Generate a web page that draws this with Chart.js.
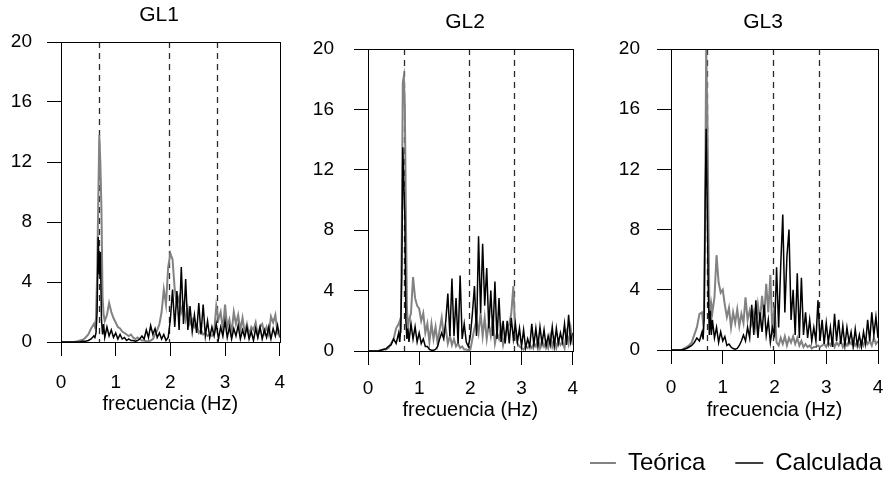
<!DOCTYPE html>
<html>
<head>
<meta charset="utf-8">
<script src="https://cdn.jsdelivr.net/npm/chart.js@4.4.1/dist/chart.umd.min.js"></script>
<style>
  html, body { margin: 0; padding: 0; background: #fff; overflow: hidden; width: 888px; height: 477px; }
  canvas { position: absolute; top: 0; }
</style>
</head>
<body>
<canvas id="gl1" width="300" height="420" style="left:0px"></canvas>
<canvas id="gl2" width="290" height="430" style="left:300px"></canvas>
<canvas id="gl3" width="370" height="494" style="left:590px"></canvas>
<script>
// frequency axis (Hz), finer around the first mode
const freq = [
  0, 0.05, 0.1, 0.15, 0.2, 0.25, 0.3, 0.35, 0.4, 0.45, 0.5, 0.55, 0.6,
  0.62, 0.64, 0.66, 0.68, 0.7, 0.72, 0.74, 0.76, 0.78, 0.8,
  0.84, 0.88, 0.92, 0.96, 1.0, 1.04, 1.08, 1.12, 1.16, 1.2, 1.24, 1.28, 1.32, 1.36, 1.4, 1.44, 1.48, 1.52, 1.56, 1.6,
  1.64, 1.68, 1.72, 1.76, 1.8, 1.84, 1.88, 1.92, 1.96, 2.0, 2.04, 2.08, 2.12, 2.16, 2.2, 2.24, 2.28, 2.32, 2.36, 2.4,
  2.44, 2.48, 2.52, 2.56, 2.6, 2.64, 2.68, 2.72, 2.76, 2.8, 2.84, 2.88, 2.92, 2.96, 3.0, 3.04, 3.08, 3.12, 3.16, 3.2,
  3.24, 3.28, 3.32, 3.36, 3.4, 3.44, 3.48, 3.52, 3.56, 3.6, 3.64, 3.68, 3.72, 3.76, 3.8, 3.84, 3.88, 3.92, 3.96, 4.0
];

const gl1Teorica = [
  0, 0, 0, 0, 0, 0.02, 0.05, 0.1, 0.15, 0.3, 0.5, 0.9, 1.2,
  1.0, 1.6, 4.3, 9.0, 13.8, 11.9, 8.8, 3.0, 1.8, 1.4,
  1.8, 2.6, 2.0, 1.6, 1.3, 1.0, 0.9, 0.7, 0.6, 0.5, 0.4, 0.5, 0.3, 0.2, 0.3, 0.2, 0.1, 0.1, 0.05, 0.05,
  0.1, 0.2, 0.5, 0.8, 1.2, 2.0, 3.5, 2.5, 5.0, 5.9, 5.5, 3.5, 2.5, 3.0, 2.0, 2.5, 1.5, 2.2, 1.2, 1.5,
  1.0, 1.2, 0.6, 0.8, 0.5, 0.6, 0.4, 0.5, 0.4, 0.6, 2.4, 1.5, 2.0, 0.8, 2.5, 1.0, 1.5, 0.6, 2.0, 1.2,
  1.8, 0.8, 1.6, 0.6, 1.2, 0.5, 1.0, 0.8, 1.3, 0.4, 1.0, 1.2, 0.6, 1.0, 0.5, 1.7, 1.3, 1.8, 0.6, 0.8
];
const gl1Calculada = [
  0, 0, 0, 0, 0, 0, 0, 0.02, 0.05, 0.05, 0.1, 0.2, 0.4,
  0.3, 0.6, 2.0, 7.0, 4.5, 6.0, 1.5, 0.5, 1.2, 0.3,
  1.0, 0.4, 0.8, 0.3, 0.6, 0.2, 0.5, 0.2, 0.3, 0.1, 0.2, 0.1, 0.1, 0.05, 0.1, 0.2, 0.4, 0.2, 0.8, 0.3,
  1.1, 0.5, 0.9, 0.3, 0.6, 0.2, 0.5, 0.1, 0.3, 1.5, 3.5, 1.0, 3.4, 0.8, 5.0, 1.2, 4.2, 0.8, 2.4, 0.7,
  1.8, 0.6, 2.6, 0.5, 2.5, 0.4, 1.4, 0.3, 1.0, 0.4, 1.2, 0.2, 1.0, 0.4, 1.4, 0.3, 1.0, 0.2, 0.9, 0.4,
  1.1, 0.2, 0.8, 0.3, 1.0, 0.2, 0.7, 0.1, 0.9, 0.3, 1.0, 0.2, 0.8, 0.3, 1.0, 0.2, 0.9, 0.4, 1.1, 0.3
];

const gl2Teorica = [
  0, 0, 0, 0, 0, 0.05, 0.1, 0.1, 0.2, 0.5, 0.8, 1.5, 1.8,
  2.0, 1.2, 7.8, 17.8, 18.2, 16.2, 9.0, 3.0, 1.5, 2.0,
  2.5, 4.9, 3.5, 3.0, 2.8, 2.0, 2.5, 1.2, 1.8, 0.6, 1.8, 0.8, 1.6, 0.5, 1.4, 2.2, 1.0, 1.5, 0.5, 1.0,
  0.4, 0.8, 0.3, 0.5, 0.2, 0.3, 0.1, 0.1, 0.05, 0.1, 0.8, 1.5, 2.0, 1.2, 2.5, 1.0, 2.2, 0.8, 1.8, 1.0,
  2.0, 0.5, 1.2, 0.8, 1.5, 0.4, 1.0, 1.5, 1.8, 2.5, 4.3, 1.0, 0.5, 0.3, 0.2, 0.1, 0.3, 0.2, 0.4, 0.2,
  0.5, 0.3, 0.8, 0.2, 0.7, 0.3, 0.6, 0.2, 1.0, 0.3, 0.8, 0.2, 0.7, 0.4, 0.6, 0.2, 1.2, 0.5, 1.5, 0.4
];
const gl2Calculada = [
  0, 0, 0, 0, 0, 0.05, 0.1, 0.15, 0.3, 0.4, 0.8, 0.5, 1.2,
  0.6, 1.5, 5.0, 13.5, 11.0, 8.8, 2.0, 0.8, 1.5, 0.6,
  1.8, 0.8, 1.6, 0.6, 1.2, 0.5, 0.8, 0.3, 0.3, 0.1, 0.05, 0.05, 0.1, 0.3, 0.8, 1.2, 0.8, 2.0, 3.8, 1.0,
  4.8, 1.0, 3.5, 0.5, 5.0, 0.8, 1.8, 0.6, 0.3, 1.0, 2.5, 4.3, 1.0, 7.6, 2.5, 7.1, 3.0, 5.5, 1.5, 4.0,
  1.0, 4.6, 0.8, 3.5, 0.6, 2.0, 0.5, 2.0, 0.5, 2.2, 0.8, 1.8, 0.6, 1.5, 0.3, 1.4, 0.2, 0.8, 0.3, 1.8,
  0.4, 1.5, 0.3, 1.6, 0.5, 1.4, 0.3, 1.0, 0.4, 1.6, 0.3, 1.5, 0.5, 1.2, 0.6, 1.8, 0.4, 2.4, 0.6, 1.2
];

const gl3Teorica = [
  0, 0, 0, 0, 0, 0.1, 0.2, 0.3, 0.5, 1.0, 1.5, 2.4, 2.5,
  1.8, 2.4, 9.5, 20, 16.3, 10.0, 3.5, 2.0, 3.0, 2.5,
  3.5, 6.3, 4.5, 3.8, 4.0, 3.0, 2.2, 2.8, 1.5, 2.5, 1.8, 2.7, 1.6, 2.4, 1.8, 3.5, 2.0, 2.6, 1.8, 2.5,
  1.5, 3.0, 2.0, 3.6, 2.2, 4.4, 2.5, 5.0, 1.0, 3.0, 0.5, 0.3, 0.8, 0.4, 0.9, 0.3, 0.8, 0.5, 0.9, 0.4,
  0.8, 0.3, 0.6, 0.2, 0.4, 0.2, 0.3, 0.1, 0.2, 0.2, 0.3, 0.2, 0.3, 0.4, 0.2, 0.5, 0.3, 0.6, 0.2, 0.5,
  0.3, 0.6, 0.2, 0.5, 0.3, 0.6, 0.4, 0.7, 0.3, 0.5, 0.2, 0.6, 0.3, 0.7, 0.4, 0.6, 0.3, 0.8, 0.4, 0.6
];
const gl3Calculada = [
  0, 0, 0, 0, 0, 0.05, 0.1, 0.2, 0.3, 0.5, 0.8, 0.6, 1.2,
  0.7, 2.0, 9.7, 14.7, 9.5, 4.0, 1.0, 2.6, 1.0, 2.0,
  0.8, 1.5, 0.5, 1.2, 0.6, 0.9, 0.3, 0.4, 0.2, 0.1, 0.05, 0.1, 0.3, 0.6, 1.0, 0.6, 1.5, 0.8, 3.0, 1.0,
  3.3, 0.8, 2.5, 1.2, 3.0, 1.0, 2.0, 0.5, 1.5, 1.0, 5.5, 1.5, 5.6, 9.0, 2.5, 6.2, 8.0, 2.0, 4.0, 1.0,
  5.1, 0.8, 4.8, 1.0, 2.5, 0.8, 2.0, 0.6, 1.5, 0.6, 3.3, 0.6, 2.0, 0.4, 1.8, 0.5, 1.5, 0.2, 2.4, 0.6,
  2.0, 0.4, 1.6, 0.3, 1.5, 0.5, 1.2, 0.2, 1.4, 0.3, 1.0, 0.2, 1.2, 0.4, 2.0, 0.6, 2.5, 1.0, 2.2, 0.8
];

// natural frequencies marked with dashed lines (Hz)
const modeFreqs = [0.70, 1.98, 2.86];

const FONT = "'Liberation Sans', Arial, Helvetica, sans-serif";

const modeLines = {
  id: 'modeLines',
  beforeDatasetsDraw(chart) {
    const { ctx, chartArea, scales: { x } } = chart;
    ctx.save();
    ctx.strokeStyle = '#2a2a2a';
    ctx.lineWidth = 1.3;
    ctx.setLineDash([6, 5]);
    modeFreqs.forEach(f => {
      const px = Math.round(x.getPixelForValue(f)) + 0.5;
      ctx.beginPath();
      ctx.moveTo(px, chartArea.top);
      ctx.lineTo(px, chartArea.bottom);
      ctx.stroke();
    });
    ctx.restore();
  }
};

const frame = {
  id: 'frame',
  afterDatasetsDraw(chart) {
    const { ctx, chartArea: a } = chart;
    ctx.save();
    ctx.strokeStyle = '#000';
    ctx.lineWidth = 1;
    ctx.strokeRect(Math.round(a.left) + 0.5, Math.round(a.top) + 0.5,
      Math.round(a.right - a.left), Math.round(a.bottom - a.top));
    ctx.restore();
  }
};

// shift the title (and legend) boxes after layout, the panel titles are not centred on the plot
const placeBoxes = {
  id: 'placeBoxes',
  afterLayout(chart, args, opts) {
    const t = chart.titleBlock;
    if (t && opts.titleCenter != null) {
      t.left = opts.titleCenter - 60;
      t.right = opts.titleCenter + 60;
    }
    const lg = chart.legend;
    if (lg && opts.legendRight != null) {
      lg.right = opts.legendRight;
      lg.top = opts.legendTop;
      lg.bottom = opts.legendTop + lg.height;
    }
  }
};

function toPoints(values) {
  return freq.map((f, i) => ({ x: f, y: values[i] }));
}

function drawPanel(id, title, teorica, calculada, lay) {
  const tickFont = { family: FONT, size: 19 };
  new Chart(document.getElementById(id), {
    type: 'line',
    data: {
      datasets: [
        { label: 'Teórica', data: toPoints(teorica), borderColor: '#828282', borderWidth: 2,
          pointRadius: 0, tension: 0, order: 1 },
        { label: 'Calculada', data: toPoints(calculada), borderColor: '#000', borderWidth: 1.5,
          pointRadius: 0, tension: 0, order: 0 }
      ]
    },
    options: {
      responsive: false,
      animation: false,
      events: [],
      layout: { padding: { left: 0, right: 0, top: 0, bottom: lay.padB } },
      plugins: {
        title: {
          display: true, text: title, color: '#000',
          font: { family: FONT, size: 21, weight: 'normal', lineHeight: 1.2 },
          padding: { top: lay.titleTop, bottom: lay.top - lay.titleTop - 25.2 }
        },
        legend: {
          display: lay.legend,
          position: 'bottom',
          align: 'end',
          labels: {
            color: '#000',
            font: { family: FONT, size: 24 },
            usePointStyle: true,
            pointStyle: 'line',
            pointStyleWidth: 28,
            padding: 30,
            sort: (a, b) => a.datasetIndex - b.datasetIndex
          }
        },
        tooltip: { enabled: false },
        placeBoxes: { titleCenter: lay.titleCenter, legendRight: lay.legendRight, legendTop: lay.legendTop }
      },
      scales: {
        x: {
          type: 'linear', min: 0, max: 4,
          afterFit: s => { s.height = lay.xHeight; },
          ticks: { stepSize: 1, color: '#000', font: tickFont, padding: lay.xPad, maxRotation: 0 },
          grid: { drawOnChartArea: false, tickLength: 14, color: '#000' },
          border: { color: '#000' },
          title: {
            display: true, text: 'frecuencia (Hz)', color: '#000',
            font: { family: FONT, size: 20 }, padding: { top: 0, bottom: lay.xTitlePad }
          }
        },
        y: {
          type: 'linear', min: 0, max: 20,
          afterFit: s => { s.width = lay.yWidth; },
          ticks: { stepSize: 4, color: '#000', font: tickFont, padding: lay.yPad },
          grid: { drawOnChartArea: false, tickLength: 14, color: '#000' },
          border: { color: '#000' }
        },
        yRight: {
          type: 'linear', position: 'right', display: true,
          afterFit: s => { s.width = lay.rightGap; },
          ticks: { display: false },
          grid: { display: false },
          border: { display: false }
        }
      }
    },
    plugins: [modeLines, frame, placeBoxes]
  });
}

drawPanel('gl1', 'GL1', gl1Teorica, gl1Calculada, {
  padB: 0, yWidth: 61, rightGap: 17, top: 42, titleTop: 3, titleCenter: 159,
  xHeight: 78, xPad: 15, xTitlePad: 4, yPad: 15, legend: false
});
drawPanel('gl2', 'GL2', gl2Teorica, gl2Calculada, {
  padB: 0, yWidth: 68, rightGap: 4, top: 49, titleTop: 10, titleCenter: 165,
  xHeight: 79, xPad: 12, xTitlePad: 8, yPad: 20, legend: false
});
drawPanel('gl3', 'GL3', gl3Teorica, gl3Calculada, {
  padB: 0.5, yWidth: 81, rightGap: 82, top: 49, titleTop: 10, titleCenter: 173,
  xHeight: 79.5, xPad: 12, xTitlePad: 7.5, yPad: 17, legend: true,
  legendRight: 322, legendTop: 421
});
</script>
</body>
</html>
